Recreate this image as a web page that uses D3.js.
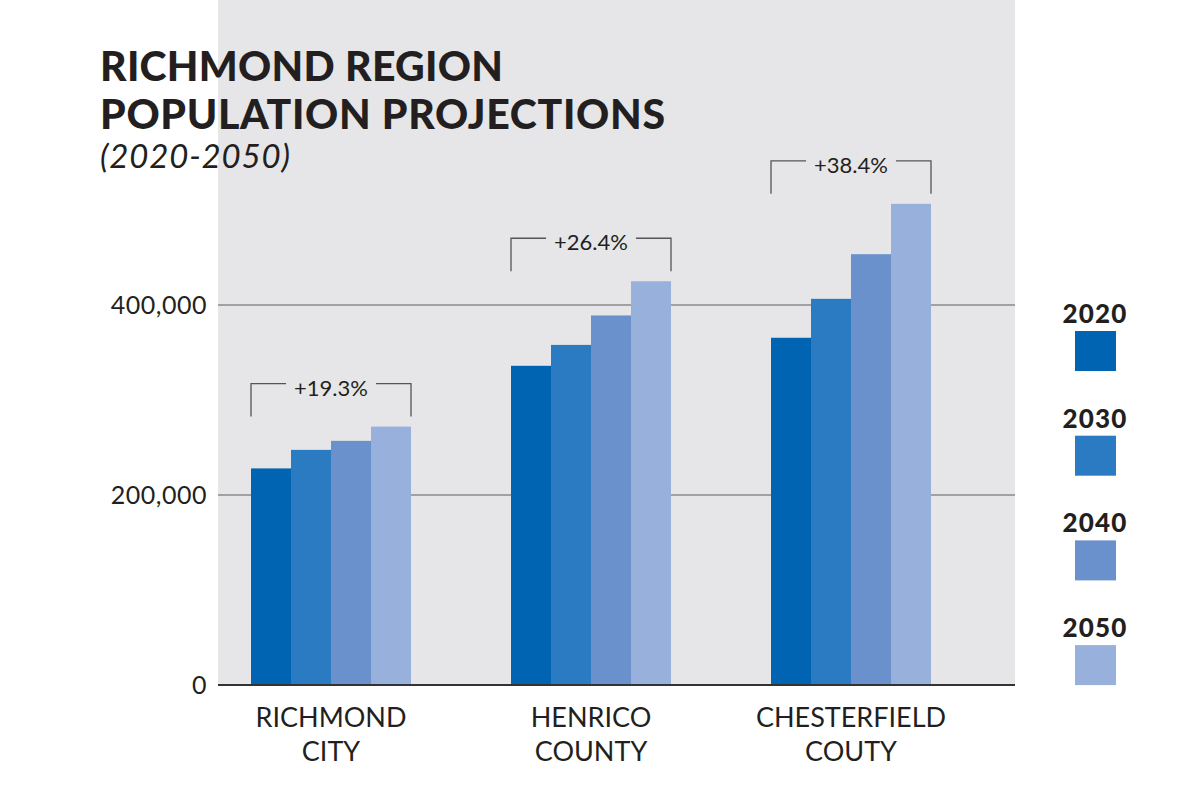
<!DOCTYPE html>
<html>
<head>
<meta charset="utf-8">
<script src="https://cdn.jsdelivr.net/npm/d3@7/dist/d3.min.js"></script>
<style>
  html, body { margin: 0; padding: 0; background: #ffffff; }
  svg { display: block; }
</style>
</head>
<body>
<svg id="chart" width="1200" height="800"></svg>
<script>
// ---- data ----
const categories = ["RICHMOND CITY", "HENRICO COUNTY", "CHESTERFIELD COUTY"];
const categoryLines = [["RICHMOND", "CITY"], ["HENRICO", "COUNTY"], ["CHESTERFIELD", "COUTY"]];
const years = ["2020", "2030", "2040", "2050"];
const values2020 = [228000, 336000, 365500];
const values2030 = [247500, 358000, 406500];
const values2040 = [257000, 389000, 453500];
const values2050 = [272000, 425000, 506500];
const growthLabels = ["+19.3%", "+26.4%", "+38.4%"];
const yTicks = [0, 200000, 400000];
const colors = ["#0064b2", "#2b7bc2", "#6a91cb", "#98b1dc"];
const titleLines = ["RICHMOND REGION", "POPULATION PROJECTIONS"];
const subtitle = "(2020-2050)";

const seriesValues = [values2020, values2030, values2040, values2050];

const svg = d3.select("#chart");
const ink = "#231f20";

// panel
const panel = {left: 218, right: 1015, top: 0, bottom: 685};
svg.append("rect")
  .attr("x", panel.left).attr("y", panel.top)
  .attr("width", panel.right - panel.left).attr("height", panel.bottom - panel.top)
  .attr("fill", "#e6e6e8");

// scales
const y = d3.scaleLinear().domain([0, 400000]).range([685, 305]);
const xGroup = d3.scalePoint().domain(categories).range([331, 851]);
const xInner = d3.scaleBand().domain(years).range([-80, 80]).padding(0);

// gridlines
svg.append("g").selectAll("line")
  .data(yTicks.filter(d => d !== 0))
  .join("line")
  .attr("x1", panel.left).attr("x2", panel.right)
  .attr("y1", d => y(d)).attr("y2", d => y(d))
  .attr("stroke", "#8a8a8c").attr("stroke-width", 1.5);

// y tick labels
svg.append("g").selectAll("text")
  .data(yTicks)
  .join("text")
  .attr("x", 207)
  .attr("y", d => y(d) + 9)
  .attr("text-anchor", "end")
  .attr("font-family", "Lato, sans-serif")
  .attr("font-size", 25)
  .attr("letter-spacing", 0.5)
  .attr("fill", ink)
  .text(d => d3.format(",")(d));

// bars
const groups = svg.append("g").selectAll("g.cat")
  .data(categories)
  .join("g")
  .attr("class", "cat")
  .attr("transform", d => `translate(${xGroup(d)},0)`);

groups.selectAll("rect")
  .data((c, ci) => years.map((yr, si) => ({yr, v: seriesValues[si][ci], si})))
  .join("rect")
  .attr("x", d => xInner(d.yr))
  .attr("width", xInner.bandwidth())
  .attr("y", d => y(d.v))
  .attr("height", d => y(0) - y(d.v))
  .attr("fill", d => colors[d.si]);

// axis baseline
svg.append("line")
  .attr("x1", panel.left).attr("x2", panel.right)
  .attr("y1", y(0)).attr("y2", y(0))
  .attr("stroke", "#333333").attr("stroke-width", 2);

// brackets
groups.each(function(c, ci) {
  const g = d3.select(this);
  const maxV = d3.max(seriesValues, s => s[ci]);
  const bottom = y(maxV) - 10;
  const top = bottom - 33;
  const x0 = xInner.range()[0], x1 = xInner.range()[1];
  const t = g.append("text")
    .attr("x", 0).attr("y", top + 12)
    .attr("text-anchor", "middle")
    .attr("font-family", "Lato, sans-serif")
    .attr("font-size", 22)
    .attr("fill", ink)
    .text(growthLabels[ci]);
  const w = t.node().getComputedTextLength();
  const gap = 8;
  const stroke = "#555";
  g.append("path")
    .attr("d", `M${x0},${bottom}V${top}H${-w/2 - gap}`)
    .attr("fill", "none").attr("stroke", stroke).attr("stroke-width", 1.3);
  g.append("path")
    .attr("d", `M${x1},${bottom}V${top}H${w/2 + gap}`)
    .attr("fill", "none").attr("stroke", stroke).attr("stroke-width", 1.3);
});

// x labels
groups.each(function(c, ci) {
  const g = d3.select(this);
  const t = g.append("text")
    .attr("text-anchor", "middle")
    .attr("font-family", "Lato, sans-serif")
    .attr("font-weight", 400)
    .attr("font-size", 27)
    .attr("fill", ink);
  categoryLines[ci].forEach((ln, li) => {
    t.append("tspan").attr("x", 0).attr("y", 727 + li * 34).text(ln);
  });
});

// title
function fitText(sel, target) {
  const n = sel.text().length;
  const w = sel.node().getComputedTextLength();
  const ls = (target - w) / Math.max(1, n - 1);
  sel.attr("letter-spacing", ls);
}
const t1 = svg.append("text")
  .attr("x", 100).attr("y", 81)
  .attr("font-family", "Lato, sans-serif").attr("font-weight", 900)
  .attr("font-size", 41).attr("fill", ink)
  .text(titleLines[0]);
fitText(t1, 403);
const t2 = svg.append("text")
  .attr("x", 100).attr("y", 129)
  .attr("font-family", "Lato, sans-serif").attr("font-weight", 900)
  .attr("font-size", 41).attr("fill", ink)
  .text(titleLines[1]);
fitText(t2, 565);
const t3 = svg.append("text")
  .attr("x", 100).attr("y", 168)
  .attr("font-family", "Lato, sans-serif").attr("font-weight", 400)
  .attr("font-style", "italic")
  .attr("font-size", 33).attr("fill", ink)
  .text(subtitle);
fitText(t3, 190);

// legend
const legend = svg.append("g").selectAll("g")
  .data(years)
  .join("g")
  .attr("transform", (d, i) => `translate(0,${i * 104.7})`);
legend.append("text")
  .attr("x", 1095).attr("y", 323)
  .attr("text-anchor", "middle")
  .attr("font-family", "Lato, sans-serif").attr("font-weight", 900)
  .attr("font-size", 26).attr("letter-spacing", 1.2)
  .attr("fill", ink)
  .text(d => d);
legend.append("rect")
  .attr("x", 1075).attr("y", 331)
  .attr("width", 41).attr("height", 40)
  .attr("fill", (d, i) => colors[i]);
</script>
</body>
</html>
